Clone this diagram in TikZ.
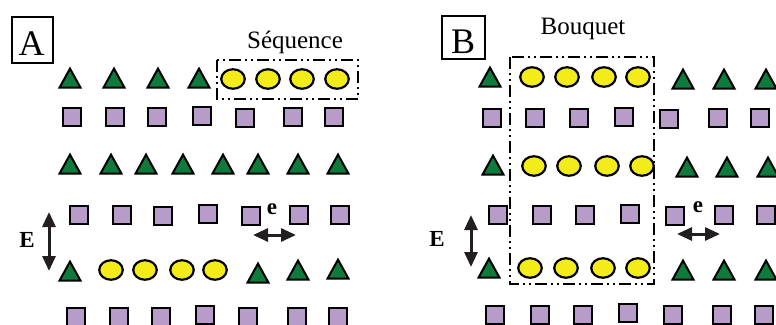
\documentclass[tikz,border=0pt]{standalone}
\usepackage{fontspec}
\setmainfont{Liberation Serif}
\usetikzlibrary{shapes.geometric,arrows.meta}
\definecolor{leafgreen}{HTML}{0E7A3B}
\definecolor{lilac}{HTML}{B79BC9}
\definecolor{lemon}{HTML}{F3EC19}
\definecolor{ink}{HTML}{231F20}
\tikzset{
  tri/.style={isosceles triangle, isosceles triangle stretches, shape border rotate=90,
    minimum width=21pt, minimum height=19pt, inner sep=0pt,
    draw=black, line width=2pt, fill=leafgreen, anchor=apex, yshift=10pt},
  sq/.style={rectangle, minimum size=17.5pt, inner sep=0pt,
    draw=black, line width=2.2pt, fill=lilac},
  bead/.style={ellipse, minimum width=23.5pt, minimum height=19.5pt, inner sep=0pt,
    draw=black, line width=2.2pt, fill=lemon},
  frame/.style={draw=black, line width=2pt,
    dash pattern=on 12pt off 4pt on 2pt off 4pt on 2pt off 4pt},
  dblarrow/.style={draw=ink, line width=3pt,
    {Triangle[length=15pt,width=13pt]}-{Triangle[length=15pt,width=13pt]}},
  tag/.style={draw=black, line width=1.8pt, inner sep=0pt},
  bigletter/.style={font=\fontsize{36}{36}\selectfont, inner sep=0pt, anchor=base},
  title/.style={font=\fontsize{25}{25}\selectfont, inner sep=0pt, anchor=base},
  dimlabel/.style={font=\fontsize{23}{23}\selectfont\bfseries, inner sep=0pt},
}
\begin{document}
\begin{tikzpicture}[x=1pt,y=-1pt]
\clip (0,0) rectangle (776,324);

% ---------------- panel A : sequence ----------------
\node[tag, minimum width=41pt, minimum height=46pt] (boxA) at (32.5,40) {};
\node[bigletter] (letA) at (31.5,55) {A};
\node[title] (seq) at (295,48) {Séquence};

% row 1
\foreach \x/\n in {70/1,114/2,158/3,199/4}
  \node[tri] (Ar1t\n) at (\x,76) {};
\foreach \x/\n in {233/1,268/2,302/3,337/4}
  \node[bead] (Ar1e\n) at (\x,79) {};
\coordinate (seqNW) at (217,60);
\coordinate (seqSE) at (358,99);
\draw[frame] (seqNW) rectangle (seqSE);

% row 2
\foreach \x/\y/\n in {72/117/1,115/117/2,157/117/3,202/116/4,245/118/5,293/117/6,334/117/7}
  \node[sq] (Ar2s\n) at (\x,\y) {};

% row 3
\foreach \x/\n in {70/1,111/2,146/3,183/4,223/5,258/6,298/7,338/8}
  \node[tri] (Ar3t\n) at (\x,162) {};

% row 4
\foreach \x/\y/\n in {79/215/1,122/215/2,163/216/3,208/214/4,251/216/5,299/215/6,340/215/7}
  \node[sq] (Ar4s\n) at (\x,\y) {};

% row 5
\node[tri] (Ar5t1) at (70,269) {};
\foreach \x/\n in {111/1,145/2,182/3,215/4}
  \node[bead] (Ar5e\n) at (\x,270) {};
\foreach \x/\y/\n in {258/271/2,298/268/3,338/267/4}
  \node[tri] (Ar5t\n) at (\x,\y) {};

% row 6
\foreach \x/\y/\n in {76/317/1,119/317/2,161/317/3,205/315/4,248/317/5,297/317/6,338/317/7}
  \node[sq] (Ar6s\n) at (\x,\y) {};

% spacing marks
\node[dimlabel] (EA) at (27,240) {E};
\coordinate (EAtop) at (49,212);
\coordinate (EAbot) at (49,271);
\draw[dblarrow] (EAtop) -- (EAbot);
\node[dimlabel] (eA) at (272,209) {e};
\coordinate (eAl) at (253,235);
\coordinate (eAr) at (296,235);
\draw[dblarrow] (eAl) -- (eAr);

% ---------------- panel B : bouquet ----------------
\node[tag, minimum width=43pt, minimum height=43pt] (boxB) at (463.5,37.5) {};
\node[bigletter] (letB) at (463,53) {B};
\node[title] (bqt) at (583,34) {Bouquet};

% row 1
\node[tri] (Br1t1) at (490,75) {};
\foreach \x/\n in {532/1,567/2,604/3,638/4}
  \node[bead] (Br1e\n) at (\x,77) {};
\foreach \x/\n in {683/2,724/3,766/4}
  \node[tri] (Br1t\n) at (\x,77) {};

% row 2
\foreach \x/\y/\n in {492/118/1,535/118/2,579/118/3,624/117/4,669/119/5,718/118/6,760/118/7}
  \node[sq] (Br2s\n) at (\x,\y) {};

% row 3
\node[tri] (Br3t1) at (493,163) {};
\foreach \x/\n in {534/1,569/2,607/3,642/4}
  \node[bead] (Br3e\n) at (\x,166) {};
\foreach \x/\n in {687/2,727/3,768/4}
  \node[tri] (Br3t\n) at (\x,165) {};

% row 4
\foreach \x/\y/\n in {498/215/1,542/215/2,585/215/3,630/214/4,675/216/5,724/215/6,766/215/7}
  \node[sq] (Br4s\n) at (\x,\y) {};

% row 5
\node[tri] (Br5t1) at (489,266) {};
\foreach \x/\n in {530/1,566/2,603/3,638/4}
  \node[bead] (Br5e\n) at (\x,268) {};
\foreach \x/\n in {683/2,724/3,766/4}
  \node[tri] (Br5t\n) at (\x,268) {};

% row 6
\foreach \x/\y/\n in {495/315/1,540/315/2,583/315/3,628/313/4,673/315/5,722/315/6,764/315/7}
  \node[sq] (Br6s\n) at (\x,\y) {};

\coordinate (bqtNW) at (510,57);
\coordinate (bqtSE) at (654,284);
\draw[frame] (bqtNW) rectangle (bqtSE);

% spacing marks
\node[dimlabel] (EB) at (437,239) {E};
\coordinate (EBtop) at (471,215);
\coordinate (EBbot) at (471,267);
\draw[dblarrow] (EBtop) -- (EBbot);
\node[dimlabel] (eB) at (698,207) {e};
\coordinate (eBl) at (677,234);
\coordinate (eBr) at (720,234);
\draw[dblarrow] (eBl) -- (eBr);
\end{tikzpicture}
\end{document}
